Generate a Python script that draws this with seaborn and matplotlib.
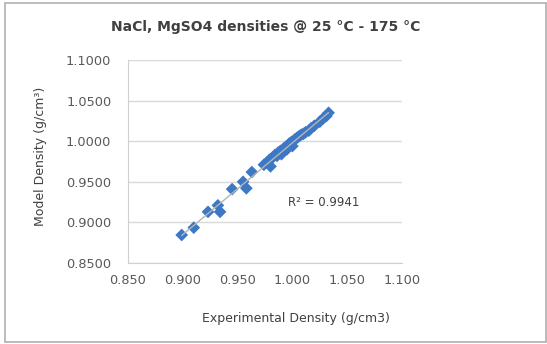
import numpy as np
import pandas as pd
import matplotlib
matplotlib.use("Agg")
import matplotlib.pyplot as plt
import seaborn as sns
from matplotlib.patches import Rectangle
from matplotlib.ticker import FormatStrFormatter

# --- datos ---
exp_density = [0.899, 0.910, 0.923, 0.932, 0.934, 0.945, 0.955, 0.958, 0.963,
               0.974, 0.977, 0.980, 0.979, 0.982, 0.984, 0.986, 0.987, 0.989,
               0.990, 0.992, 0.994, 0.995, 0.997, 0.999, 1.000, 1.002, 1.004,
               1.006, 1.008, 1.010, 1.012, 1.015, 1.017, 1.020, 1.025, 1.028,
               1.031, 1.033]
model_density = [0.8845, 0.8935, 0.913, 0.921, 0.913, 0.941, 0.950, 0.942, 0.962,
                 0.971, 0.974, 0.969, 0.977, 0.980, 0.983, 0.982, 0.986, 0.988,
                 0.984, 0.991, 0.993, 0.990, 0.997, 0.999, 0.994, 1.002, 1.004,
                 1.006, 1.008, 1.009, 1.011, 1.013, 1.016, 1.019, 1.024, 1.028,
                 1.031, 1.035]
r2_text = "R² = 0.9941"
title = "NaCl, MgSO4 densities @ 25 °C - 175 °C"
x_ticks = [0.85, 0.90, 0.95, 1.00, 1.05, 1.10]
y_ticks = [0.85, 0.90, 0.95, 1.00, 1.05, 1.10]

df = pd.DataFrame({"exp": exp_density, "model": model_density})

sns.set_style("white")
plt.rcParams["font.family"] = ["DejaVu Sans"]

fig = plt.figure(figsize=(5.47, 3.44), dpi=100)
ax = fig.add_axes([128 / 547, 1 - 263 / 344, 274 / 547, 203 / 344])

# marco gris del grafico
fig.patches.append(Rectangle((5 / 547, 2 / 344), 541 / 547, 339 / 344,
                             transform=fig.transFigure, fill=False,
                             edgecolor="#b0b0b0", linewidth=1.2))

sns.regplot(data=df, x="exp", y="model", ax=ax, ci=None, marker="D",
            scatter_kws={"s": 42, "color": "#3D78C4", "edgecolor": "none",
                         "alpha": 1, "zorder": 3},
            line_kws={"color": "#b5b5b5", "linewidth": 1, "zorder": 4})

ax.set_xlim(0.85, 1.10)
ax.set_ylim(0.85, 1.10)
ax.set_xticks(x_ticks)
ax.set_yticks(y_ticks)
ax.xaxis.set_major_formatter(FormatStrFormatter("%.3f"))
ax.yaxis.set_major_formatter(FormatStrFormatter("%.4f"))
ax.tick_params(axis="both", labelsize=9.3, colors="#d0d0d0",
               length=4, width=1, direction="out")
ax.tick_params(axis="x", pad=4)
ax.tick_params(axis="y", pad=8)
for lbl in ax.get_xticklabels() + ax.get_yticklabels():
    lbl.set_color("#595959")

ax.grid(axis="y", color="#d9d9d9", linewidth=1)
ax.set_axisbelow(True)
sns.despine(ax=ax, top=True, right=True)
ax.spines["left"].set_color("#d0d0d0")
ax.spines["bottom"].set_color("#d0d0d0")

ax.set_xlabel("Experimental Density (g/cm3)", fontsize=9, color="#404040")
ax.set_ylabel("Model Density (g/cm³)", fontsize=9, color="#404040")
ax.xaxis.set_label_coords((296 - 128) / 274, -49 / 203)
ax.yaxis.set_label_coords(-81 / 274, (263 - 156) / 203)

ax.text((288 - 128) / 274, (263 - 203) / 203, r2_text,
        transform=ax.transAxes, fontsize=8.5, color="#404040", va="center")

fig.text(266 / 547, 1 - 27 / 344, title, ha="center", va="center",
         fontsize=10, fontweight="bold", color="#404040")

fig.savefig("out.png", dpi=100)
